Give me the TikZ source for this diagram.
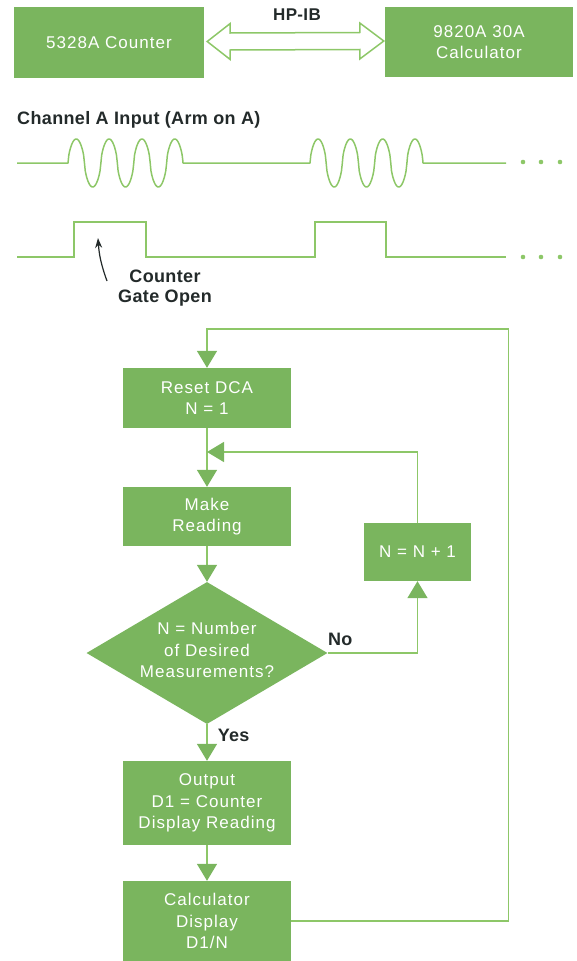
\documentclass[tikz,border=0pt]{standalone}
\usepackage{fontspec}
\setmainfont{Liberation Sans}
\newfontfamily\boxfont[LetterSpace=6]{Liberation Sans}
\newfontfamily\labfont[LetterSpace=2]{Liberation Sans}
\usepackage{tikz}
\usetikzlibrary{shapes.geometric}
\usetikzlibrary{arrows.meta}
\usetikzlibrary{calc}
\definecolor{boxgreen}{RGB}{122,181,94}
\definecolor{linegreen}{RGB}{141,199,104}
\definecolor{inkgray}{RGB}{35,42,42}

\begin{document}
\begin{tikzpicture}[x=1pt,y=-1pt,
              box/.style={fill=boxgreen, text=white, font=\boxfont\fontsize{17}{21.5}\selectfont,
                align=center, inner sep=0, minimum width=168pt},
              decision/.style={diamond, fill=boxgreen, minimum width=241pt, minimum height=142pt, inner sep=0},
              lab/.style={text=inkgray, font=\labfont\bfseries\fontsize{18}{20}\selectfont, align=center, inner sep=0},
              wire/.style={draw=linegreen, line width=1.5pt},
              flow/.style={wire, -{Triangle[width=20pt,length=17pt,color=boxgreen]}}]
  \useasboundingbox (0,0) rectangle (576,961);

  % counter and calculator on the bus
  \node[box, minimum width=190pt, minimum height=71pt] (counter) at (109,42.5) {5328A Counter};
  \node[box, minimum width=188pt, minimum height=70pt] (calc) at (479,42) {9820A 30A\\Calculator};
  \node[lab, font=\labfont\bfseries\fontsize{17}{20}\selectfont] (bus) at (297,15) {HP-IB};
  \coordinate (busL) at ($(counter.east)+(3,-1)$);
  \coordinate (busR) at ($(calc.west)+(-1,-1)$);
  \draw[wire, line join=miter] (busL) -- ++(23,-18) -- ++(0,9.5) -- ($(busR)+(-24,-8.5)$) -- ++(0,-9.5)
    -- (busR) -- ++(-24,18) -- ++(0,-9.5) -- ($(busL)+(23,8.5)$) -- ++(0,9.5) -- cycle;

  % input signal and gate
  \node[lab, anchor=west] (chan) at (17,120) {Channel A Input (Arm on A)};
  \draw[wire, line join=round] (17,163) -- (68,163)
    -- plot[domain=0:1, samples=141] ({68+115*\x}, {163-24*sign(sin(1260*\x))*(abs(sin(1260*\x))+0.0001)^0.6})
    -- (183,163) -- (310,163)
    -- plot[domain=0:1, samples=141] ({310+113*\x}, {163-24*sign(sin(1260*\x))*(abs(sin(1260*\x))+0.0001)^0.6})
    -- (423,163) -- (506,163);
  \draw[wire] (17,257) -- (74,257) -- (74,222) -- (146,222) -- (146,257) -- (315,257)
    -- (315,222) -- (386,222) -- (386,257) -- (506,257);
  \foreach \dx in {523,541,560} {
    \fill[linegreen] (\dx,162) circle (2.3pt);
    \fill[linegreen] (\dx,257) circle (2.3pt);
  }
  \node[lab] (gate) at (165,288) {Counter\\Gate Open};
  \coordinate (gatetail) at (107,281);
  \coordinate (gatetip) at (98,238);
  \draw[inkgray, line width=1.2pt, -{Stealth[length=10pt,width=7pt]}] (gatetail) to[bend left=8] (gatetip);

  % flow chart
  \node[box, minimum height=60pt] (reset) at (207,398) {Reset DCA\\N = 1};
  \node[box, minimum height=59pt] (make) at (207,516.5) {Make\\Reading};
  \node[decision] (test) at (207,653) {};
  \node[box, fill=none, minimum width=0pt] (testtxt) at (207,650) {N = Number\\of Desired\\Measurements?};
  \node[box, minimum width=107pt, minimum height=58pt] (incr) at (417.5,552) {N = N + 1};
  \node[box, minimum height=84pt] (output) at (207,803) {Output\\D1 = Counter\\Display Reading};
  \node[box, minimum height=80pt] (show) at (207,921) {Calculator\\Display\\D1/N};
  \coordinate (join) at (207,452);

  \draw[flow] (reset) -- (make);
  \draw[flow] (incr.north) |- (join);
  \draw[flow] (make) -- (test);
  \draw[flow] (test.south) -- (output.north) node[lab, pos=0.3, anchor=west, xshift=10pt] {Yes};
  \draw[flow] (test.east) -| (incr.south) node[lab, pos=0.07, above=7pt] {No};
  \draw[flow] (output) -- (show);
  \draw[flow] (show.east) -- ++(217.5,0) |- ($(reset.north)+(0,-39)$) -- (reset.north);
\end{tikzpicture}
\end{document}
